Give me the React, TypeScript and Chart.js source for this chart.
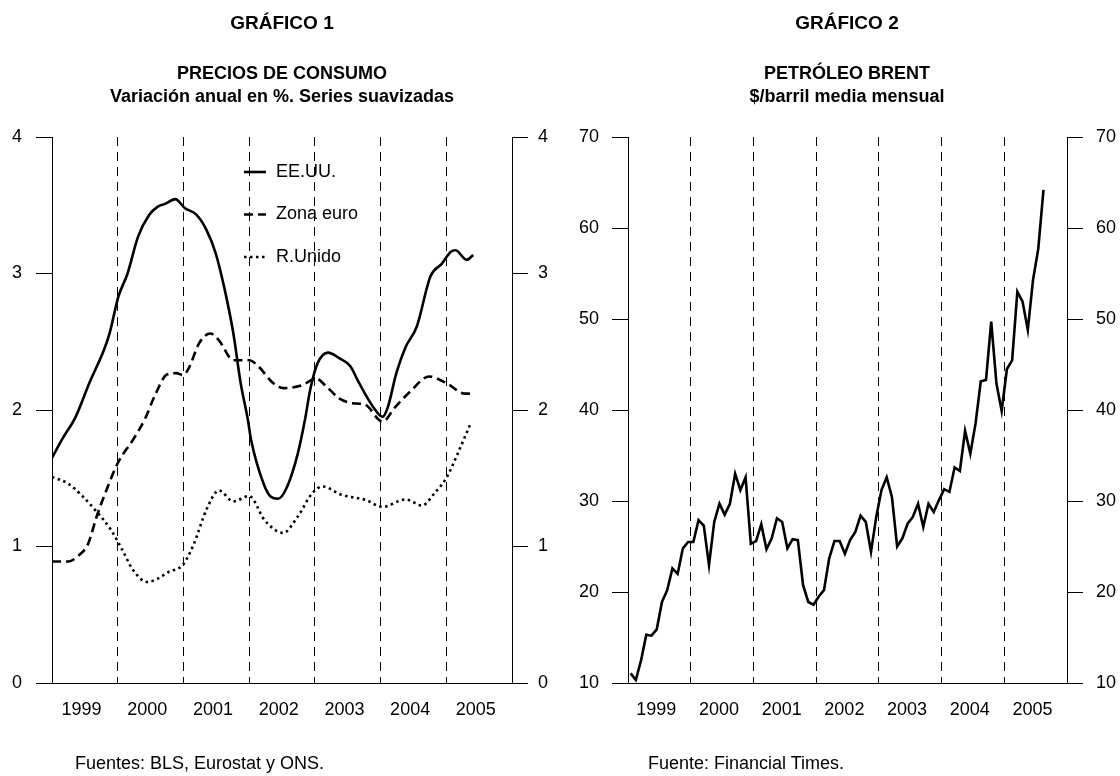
import React, { useEffect, useRef } from "react";
import { Chart, registerables } from "chart.js";

Chart.register(...registerables);

const FONT = "'Liberation Sans', Arial, Helvetica, sans-serif";

// ---------- Gráfico 1: Precios de consumo (variación anual %, series suavizadas) ----------
const usLabel = "EE.UU.";
const usTime = [1999.0, 1999.16, 1999.36, 1999.57, 1999.79, 1999.875, 2000.01, 2000.15, 2000.31, 2000.48, 2000.61, 2000.72, 2000.875, 2001.02, 2001.2, 2001.35, 2001.49, 2001.62, 2001.76, 2001.87, 2001.98, 2002.03, 2002.22, 2002.33, 2002.44, 2002.58, 2002.74, 2002.85, 2002.93, 2003.04, 2003.2, 2003.37, 2003.54, 2003.67, 2003.89, 2004.03, 2004.11, 2004.24, 2004.38, 2004.55, 2004.76, 2004.93, 2005.07, 2005.14, 2005.31, 2005.41];
const usValues = [1.65, 1.79, 1.95, 2.2, 2.44, 2.56, 2.83, 3.0, 3.27, 3.43, 3.49, 3.51, 3.545, 3.48, 3.43, 3.32, 3.15, 2.9, 2.56, 2.2, 1.93, 1.78, 1.46, 1.365, 1.35, 1.44, 1.68, 1.93, 2.15, 2.34, 2.42, 2.38, 2.32, 2.2, 2.02, 1.95, 2.02, 2.27, 2.46, 2.61, 2.98, 3.07, 3.16, 3.17, 3.1, 3.135];

const euLabel = "Zona euro";
const euTime = [1999.0, 1999.25, 1999.38, 1999.55, 1999.68, 1999.85, 2000.01, 2000.23, 2000.42, 2000.56, 2000.75, 2000.89, 2000.995, 2001.08, 2001.24, 2001.41, 2001.54, 2001.76, 2002.0, 2002.14, 2002.36, 2002.52, 2002.8, 2003.02, 2003.18, 2003.37, 2003.57, 2003.76, 2004.03, 2004.22, 2004.44, 2004.74, 2005.01, 2005.28, 2005.39];
const euValues = [0.89, 0.89, 0.925, 1.02, 1.22, 1.44, 1.62, 1.78, 1.94, 2.1, 2.26, 2.27, 2.255, 2.305, 2.49, 2.56, 2.51, 2.365, 2.365, 2.32, 2.2, 2.16, 2.18, 2.23, 2.17, 2.085, 2.05, 2.04, 1.915, 2.02, 2.13, 2.245, 2.195, 2.12, 2.12];

const ukLabel = "R.Unido";
const ukTime = [1999.0, 1999.25, 1999.47, 1999.68, 1999.9, 2000.07, 2000.23, 2000.45, 2000.61, 2000.78, 2000.99, 2001.16, 2001.35, 2001.54, 2001.76, 2002.0, 2002.24, 2002.52, 2002.74, 2002.96, 2003.12, 2003.4, 2003.78, 2004.03, 2004.38, 2004.63, 2004.82, 2005.01, 2005.2, 2005.36];
const ukValues = [1.51, 1.46, 1.365, 1.255, 1.12, 0.975, 0.83, 0.74, 0.765, 0.815, 0.865, 1.02, 1.27, 1.41, 1.33, 1.37, 1.19, 1.1, 1.22, 1.39, 1.44, 1.38, 1.34, 1.29, 1.345, 1.3, 1.39, 1.51, 1.71, 1.89];

const cpiMin = 0;
const cpiMax = 4;
const cpiStep = 1;

// ---------- Gráfico 2: Petróleo Brent ($/barril, media mensual), ene-1999 .. ago-2005 ----------
const brentLabel = "Brent";
const brentFirstYear = 1999;
const brentValues = [
  11.06, 10.33, 12.5, 15.3, 15.2, 15.9, 18.9, 20.2, 22.6, 22.0, 24.8, 25.5,
  25.5, 27.9, 27.3, 22.95, 27.7, 29.7, 28.5, 29.7, 33.0, 31.2, 32.6, 25.3,
  25.6, 27.45, 24.7, 25.9, 28.1, 27.7, 24.8, 25.8, 25.7, 20.75, 18.9, 18.6,
  19.5, 20.2, 23.7, 25.6, 25.6, 24.2, 25.7, 26.6, 28.4, 27.7, 24.4, 28.25,
  31.2, 32.6, 30.45, 25.0, 25.9, 27.5, 28.25, 29.7, 27.15, 29.7, 28.8, 30.1,
  31.3, 31.0, 33.7, 33.3, 37.7, 35.2, 38.5, 43.15, 43.3, 49.7, 42.9, 39.9,
  44.5, 45.45, 53.0, 51.9, 48.8, 54.3, 57.7, 64.2,
];
const brentMin = 10;
const brentMax = 70;
const brentStep = 10;

// ---------- Shared axis ----------
const yearLabels = ["1999", "2000", "2001", "2002", "2003", "2004", "2005"];
const yearStart = 1999;
const yearEnd = 2006;

const toPoints = (t: number[], v: number[]) => t.map((x, i) => ({ x, y: v[i] }));

const LABEL_POS = 0.45;

function buildXTicks() {
  const out: { value: number }[] = [];
  for (let y = yearStart; y <= yearEnd; y++) {
    out.push({ value: y });
    if (y < yearEnd) out.push({ value: y + LABEL_POS });
  }
  return out;
}

const lineLegendPlugin = {
  id: "lineLegend",
  afterDatasetsDraw(chart: any, _args: any, opts: any) {
    if (!opts || !opts.display) return;
    const ctx = chart.ctx;
    chart.data.datasets.forEach((ds: any, i: number) => {
      const y = opts.y + i * opts.spacing;
      ctx.save();
      ctx.strokeStyle = ds.borderColor;
      ctx.lineWidth = ds.borderWidth;
      ctx.lineCap = "butt";
      ctx.setLineDash(ds.borderDash || []);
      ctx.beginPath();
      ctx.moveTo(opts.x, y);
      ctx.lineTo(opts.x + opts.length, y);
      ctx.stroke();
      ctx.setLineDash([]);
      ctx.fillStyle = "#000";
      ctx.font = `${opts.fontSize}px ${FONT}`;
      ctx.textBaseline = "middle";
      ctx.textAlign = "left";
      ctx.fillText(ds.label, opts.x + opts.length + opts.gap, y);
      ctx.restore();
    });
  },
};

function makeConfig(p: {
  datasets: any[];
  yMin: number;
  yMax: number;
  yStep: number;
  leftWidth: number;
  rightWidth: number;
  leftPad: number;
  rightPad: number;
  legend: any;
}) {
  const tickFont = { family: FONT, size: 18 };
  const yAxis = (position: "left" | "right", width: number, pad: number) => ({
    type: "linear",
    position,
    min: p.yMin,
    max: p.yMax,
    ticks: { stepSize: p.yStep, padding: pad, color: "#000", font: tickFont },
    grid: { drawOnChartArea: false, drawTicks: true, tickLength: 16, color: "#000", tickColor: "#000", lineWidth: 1 },
    border: { display: true, color: "#000", width: 1 },
    afterFit: (s: any) => {
      s.width = width;
    },
  });
  return {
    type: "line",
    data: { datasets: p.datasets },
    plugins: [lineLegendPlugin],
    options: {
      animation: false,
      responsive: false,
      devicePixelRatio: 1,
      layout: { padding: { left: 0, right: 0, top: 137, bottom: 53 } },
      elements: { point: { radius: 0, hoverRadius: 0 } },
      plugins: {
        legend: { display: false },
        tooltip: { enabled: false },
        title: { display: false },
        lineLegend: p.legend,
      },
      scales: {
        x: {
          type: "linear",
          position: "bottom",
          min: yearStart,
          max: yearEnd,
          afterBuildTicks: (s: any) => {
            s.ticks = buildXTicks();
          },
          ticks: {
            autoSkip: false,
            maxRotation: 0,
            padding: 16,
            color: "#000",
            font: tickFont,
            callback: (v: number) => (Number.isInteger(v) ? "" : yearLabels[Math.floor(v) - yearStart]),
          },
          grid: {
            drawTicks: false,
            lineWidth: 1,
            color: (c: any) => {
              const v = c.tick ? c.tick.value : NaN;
              return Number.isInteger(v) && v > yearStart && v < yearEnd ? "#000" : "rgba(0,0,0,0)";
            },
          },
          border: { display: true, color: "#000", width: 1, dash: [9, 6] },
          afterFit: (s: any) => {
            s.height = 40;
          },
        },
        y: yAxis("left", p.leftWidth, p.leftPad),
        y2: yAxis("right", p.rightWidth, p.rightPad),
      },
    },
  } as any;
}

function ChartCanvas({ config, left }: { config: any; left: number }) {
  const ref = useRef<HTMLCanvasElement | null>(null);
  useEffect(() => {
    if (!ref.current) return;
    const chart = new Chart(ref.current, config);
    return () => chart.destroy();
  }, [config]);
  return (
    <canvas
      ref={ref}
      width={560}
      height={776}
      style={{ position: "absolute", left, top: 0, width: 560, height: 776 }}
    />
  );
}

const cpiConfig = makeConfig({
  datasets: [
    {
      label: usLabel,
      data: toPoints(usTime, usValues),
      borderColor: "#000",
      borderWidth: 2.6,
      borderDash: [],
      cubicInterpolationMode: "monotone",
      yAxisID: "y",
    },
    {
      label: euLabel,
      data: toPoints(euTime, euValues),
      borderColor: "#000",
      borderWidth: 2.6,
      borderDash: [9, 5],
      cubicInterpolationMode: "monotone",
      yAxisID: "y",
    },
    {
      label: ukLabel,
      data: toPoints(ukTime, ukValues),
      borderColor: "#000",
      borderWidth: 2.6,
      borderDash: [2.5, 3.5],
      cubicInterpolationMode: "monotone",
      yAxisID: "y",
    },
  ],
  yMin: cpiMin,
  yMax: cpiMax,
  yStep: cpiStep,
  leftWidth: 52,
  rightWidth: 48,
  leftPad: 14,
  rightPad: 10,
  legend: { display: true, x: 244, y: 172, spacing: 42.5, length: 22, gap: 10, fontSize: 18 },
});

const brentConfig = makeConfig({
  datasets: [
    {
      label: brentLabel,
      data: brentValues.map((v, i) => ({ x: brentFirstYear + (i + 0.5) / 12, y: v })),
      borderColor: "#000",
      borderWidth: 2.6,
      tension: 0,
      yAxisID: "y",
    },
  ],
  yMin: brentMin,
  yMax: brentMax,
  yStep: brentStep,
  leftWidth: 68,
  rightWidth: 53,
  leftPad: 13,
  rightPad: 13,
  legend: { display: false },
});

const titleStyle = (center: number, top: number, size: number): React.CSSProperties => ({
  position: "absolute",
  left: center - 280,
  width: 560,
  top,
  textAlign: "center",
  fontFamily: FONT,
  fontWeight: "bold",
  fontSize: size,
  lineHeight: `${size + 4}px`,
  whiteSpace: "nowrap",
  color: "#000",
});

const noteStyle = (left: number): React.CSSProperties => ({
  position: "absolute",
  left,
  top: 752,
  fontFamily: FONT,
  fontSize: 18,
  lineHeight: "22px",
  whiteSpace: "nowrap",
  color: "#000",
});

export default function App() {
  useEffect(() => {
    document.body.style.margin = "0";
  }, []);
  return (
    <div style={{ position: "absolute", left: 0, top: 0, width: 1120, height: 776, background: "#fff", overflow: "hidden" }}>
      <ChartCanvas config={cpiConfig} left={0} />
      <ChartCanvas config={brentConfig} left={560} />
      <div style={titleStyle(282, 11, 19)}>GRÁFICO 1</div>
      <div style={titleStyle(282, 62, 18)}>PRECIOS DE CONSUMO</div>
      <div style={titleStyle(282, 85, 18)}>Variación anual en %. Series suavizadas</div>
      <div style={titleStyle(847, 11, 19)}>GRÁFICO 2</div>
      <div style={titleStyle(847, 62, 18)}>PETRÓLEO BRENT</div>
      <div style={titleStyle(847, 85, 18)}>$/barril media mensual</div>
      <div style={noteStyle(75)}>Fuentes: BLS, Eurostat y ONS.</div>
      <div style={noteStyle(648)}>Fuente: Financial Times.</div>
    </div>
  );
}
